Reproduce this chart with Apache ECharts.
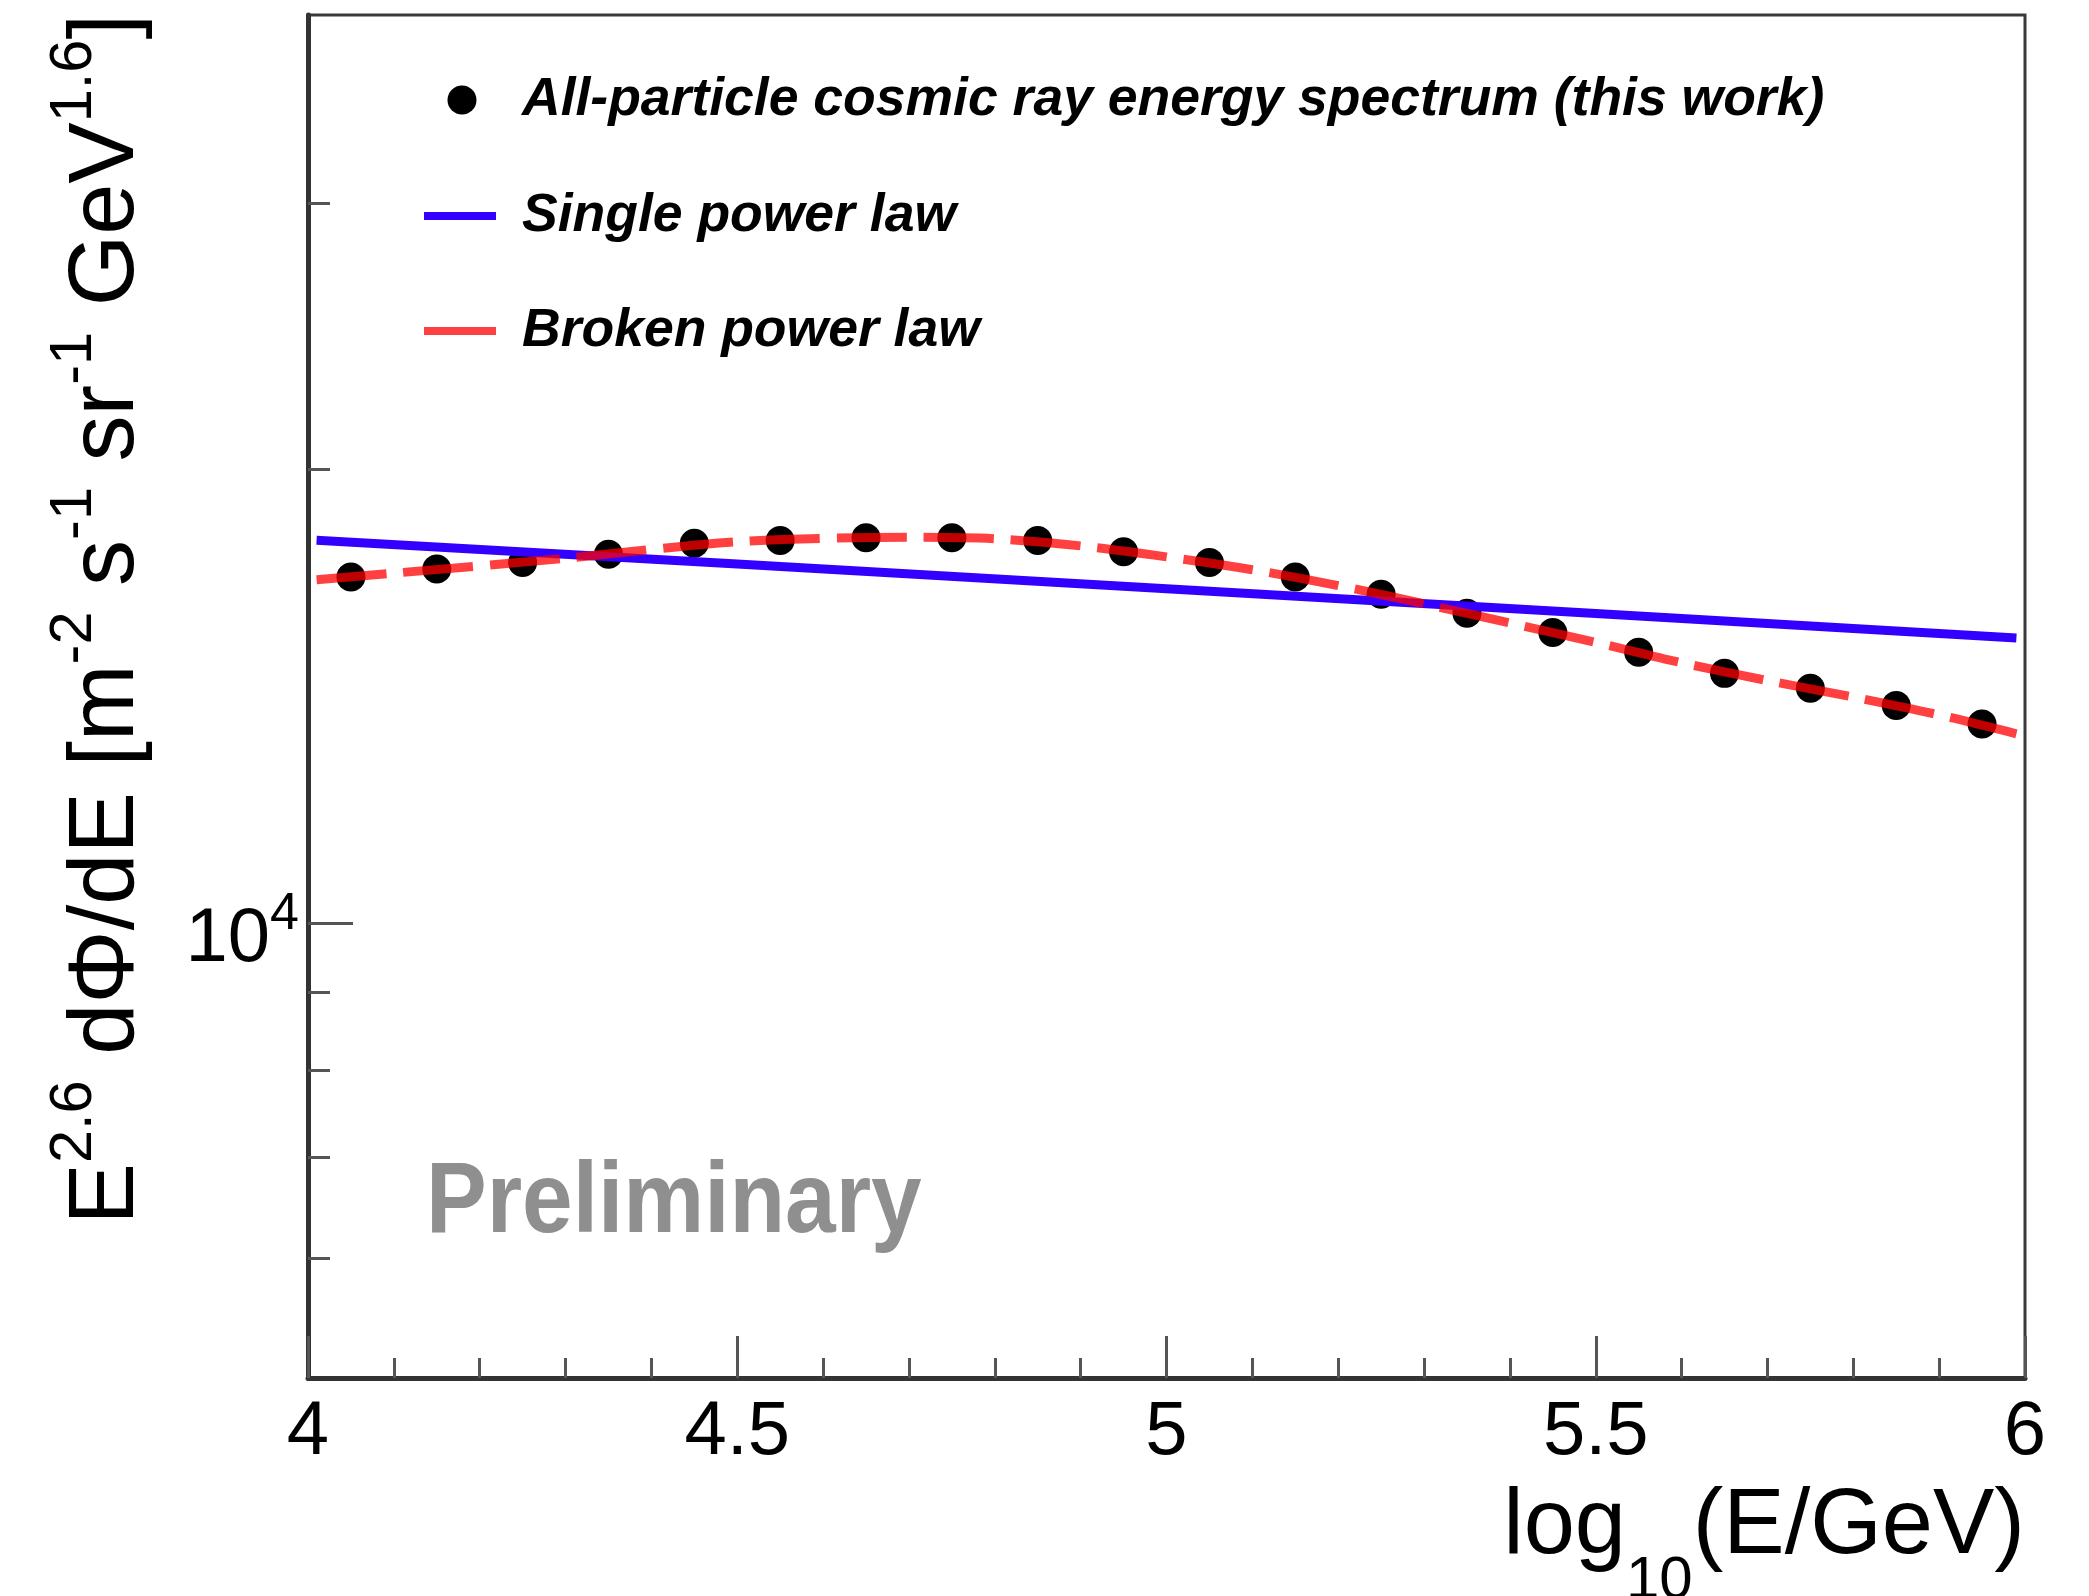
<!DOCTYPE html>
<html>
<head>
<meta charset="utf-8">
<script src="https://cdn.jsdelivr.net/npm/echarts@6/dist/echarts.min.js"></script>
<style>
html,body{margin:0;padding:0;background:#fff;}
#chart{width:2089px;height:1596px;}
</style>
</head>
<body>
<div id="chart"></div>
<script>
// ---- data ----
const energyX = [4.05, 4.15, 4.25, 4.35, 4.45, 4.55, 4.65, 4.75, 4.85, 4.95, 5.05, 5.15, 5.25, 5.35, 5.45, 5.55, 5.65, 5.75, 5.85, 5.95];
const spectrumY = [16970, 17180, 17350, 17570, 17870, 17940, 18020, 18020, 17940, 17640, 17350, 16970, 16530, 16060, 15590, 15130, 14650, 14320, 13950, 13560];
const singleX = [4.01, 4.5, 5.0, 5.5, 5.99];
const singleY = [17950, 17310, 16670, 16050, 15460];
const brokenX = [4.01, 4.1, 4.3, 4.5, 4.7, 4.8, 4.9, 5.0, 5.1, 5.2, 5.3, 5.4, 5.5, 5.6, 5.7, 5.8, 5.9, 5.99];
const brokenY = [16900, 17070, 17460, 17910, 18030, 17990, 17795, 17500, 17160, 16750, 16290, 15820, 15360, 14890, 14490, 14130, 13750, 13360];
const xTicks = [4, 4.5, 5, 5.5, 6];
const yMinorTicks = [6000, 7000, 8000, 9000, 20000, 30000];
const yMajorTicks = [10000];
const legendNames = ['All-particle cosmic ray energy spectrum (this work)', 'Single power law', 'Broken power law'];

const pairs = (xs, ys) => xs.map((x, i) => [x, ys[i]]);
const FONT = '"Liberation Sans", Arial, Helvetica, sans-serif';
const BLUE = '#3300ff';
const RED = 'rgba(255,0,0,0.75)';

const chart = echarts.init(document.getElementById('chart'), null, {renderer: 'canvas'});

const option = {
  backgroundColor: '#fff',
  animation: false,
  grid: {
    left: 308, right: 64, top: 15, bottom: 218,
    show: true, borderColor: '#3a3a3a', borderWidth: 3,
    outerBoundsMode: 'none', containLabel: false
  },
  xAxis: {
    type: 'value', min: xTicks[0], max: xTicks[xTicks.length - 1], interval: 0.5,
    axisLine: {show: true, onZero: false, lineStyle: {color: '#333', width: 5}},
    axisTick: {show: true, inside: true, length: 42, lineStyle: {color: '#555', width: 3}},
    minorTick: {show: true, splitNumber: 5, length: 20, lineStyle: {color: '#555', width: 3}},
    splitLine: {show: false},
    axisLabel: {fontFamily: FONT, fontSize: 76, color: '#000', margin: 17,
      formatter: v => String(v)},
    name: '{m|log}{b|10}{m|(E/GeV)}',
    nameLocation: 'end', nameGap: 0, nameMoveOverlap: false,
    nameTextStyle: {
      align: 'right', verticalAlign: 'top', padding: [104, 0, 0, 0],
      rich: {
        m: {fontFamily: FONT, fontSize: 92, lineHeight: 92, color: '#000', verticalAlign: 'top'},
        b: {fontFamily: FONT, fontSize: 60, lineHeight: 129, color: '#000', verticalAlign: 'bottom'}
      }
    }
  },
  yAxis: [{
    type: 'log', logBase: 10, min: 5000, max: 40000,
    axisLine: {show: true, lineStyle: {color: '#333', width: 5}},
    axisTick: {show: true, inside: true, length: 22, customValues: yMinorTicks, lineStyle: {color: '#555', width: 3}},
    axisLabel: {show: false},
    splitLine: {show: false},
    name: '{m|E}{s|2.6}{m| dΦ/dE [m}{s|-2}{m| s}{s|-1}{m| sr}{s|-1}{m| GeV}{s|1.6}{m|]}',
    nameLocation: 'end', nameRotate: 90, nameGap: 1, nameMoveOverlap: false,
    nameTextStyle: {
      align: 'right', verticalAlign: 'bottom', padding: [0, 0, 154, 0],
      rich: {
        m: {fontFamily: FONT, fontSize: 92, lineHeight: 109, color: '#000', verticalAlign: 'bottom'},
        s: {fontFamily: FONT, fontSize: 59.5, lineHeight: 59.5, color: '#000', verticalAlign: 'top'}
      }
    }
  }, {
    type: 'log', logBase: 10, min: 5000, max: 40000, position: 'left', offset: 0,
    axisLine: {show: false},
    axisTick: {show: true, inside: true, length: 45, customValues: yMajorTicks, lineStyle: {color: '#555', width: 3}},
    axisLabel: {
      show: true, margin: 9, customValues: yMajorTicks, padding: [19, 0, 0, 0],
      formatter: v => '{b|10}{s|' + Math.round(Math.log10(v)) + '}',
      rich: {
        b: {fontFamily: FONT, fontSize: 76, lineHeight: 89, color: '#000', verticalAlign: 'bottom'},
        s: {fontFamily: FONT, fontSize: 52, lineHeight: 52, color: '#000', verticalAlign: 'top'}
      }
    },
    splitLine: {show: false}
  }],
  legend: [{
    data: [{name: legendNames[0], icon: 'circle', itemStyle: {color: '#000', opacity: 1}}],
    left: 447.5, top: 70, padding: 0,
    itemWidth: 72, itemHeight: 29,
    textStyle: {fontFamily: FONT, fontSize: 53.5, fontWeight: 'bold', fontStyle: 'italic', color: '#000', lineHeight: 60, padding: [0, 0, 0, 19]},
    selectedMode: false
  }, {
    data: [
      {name: legendNames[1], icon: 'rect', itemStyle: {color: BLUE, borderWidth: 0}},
      {name: legendNames[2], icon: 'rect', itemStyle: {color: RED, borderWidth: 0}}
    ],
    orient: 'vertical', left: 424, top: 186, padding: 0,
    itemWidth: 72, itemHeight: 8, itemGap: 55,
    textStyle: {fontFamily: FONT, fontSize: 53.5, fontWeight: 'bold', fontStyle: 'italic', color: '#000', lineHeight: 60, padding: [0, 0, 0, 21]},
    selectedMode: false
  }],
  graphic: [{
    type: 'text', x: 426, y: 1154, scaleX: 0.91, z: 10,
    style: {text: 'Preliminary', fontFamily: FONT, fontSize: 100, fontWeight: 'bold', fill: '#8f8f8f', align: 'left', verticalAlign: 'top'}
  }],
  series: [{
    name: legendNames[0], type: 'scatter', yAxisIndex: 0,
    symbol: 'circle', symbolSize: 29,
    itemStyle: {color: '#000', opacity: 1},
    data: pairs(energyX, spectrumY), z: 2
  }, {
    name: legendNames[1], type: 'line', yAxisIndex: 0,
    showSymbol: false, symbol: 'none',
    lineStyle: {color: BLUE, width: 9},
    itemStyle: {color: BLUE},
    data: pairs(singleX, singleY), z: 3
  }, {
    name: legendNames[2], type: 'line', yAxisIndex: 0,
    showSymbol: false, symbol: 'none', smooth: 0.3,
    lineStyle: {color: RED, width: 9, type: [70, 17]},
    itemStyle: {color: RED},
    data: pairs(brokenX, brokenY), z: 4
  }]
};
chart.setOption(option);
</script>
</body>
</html>
